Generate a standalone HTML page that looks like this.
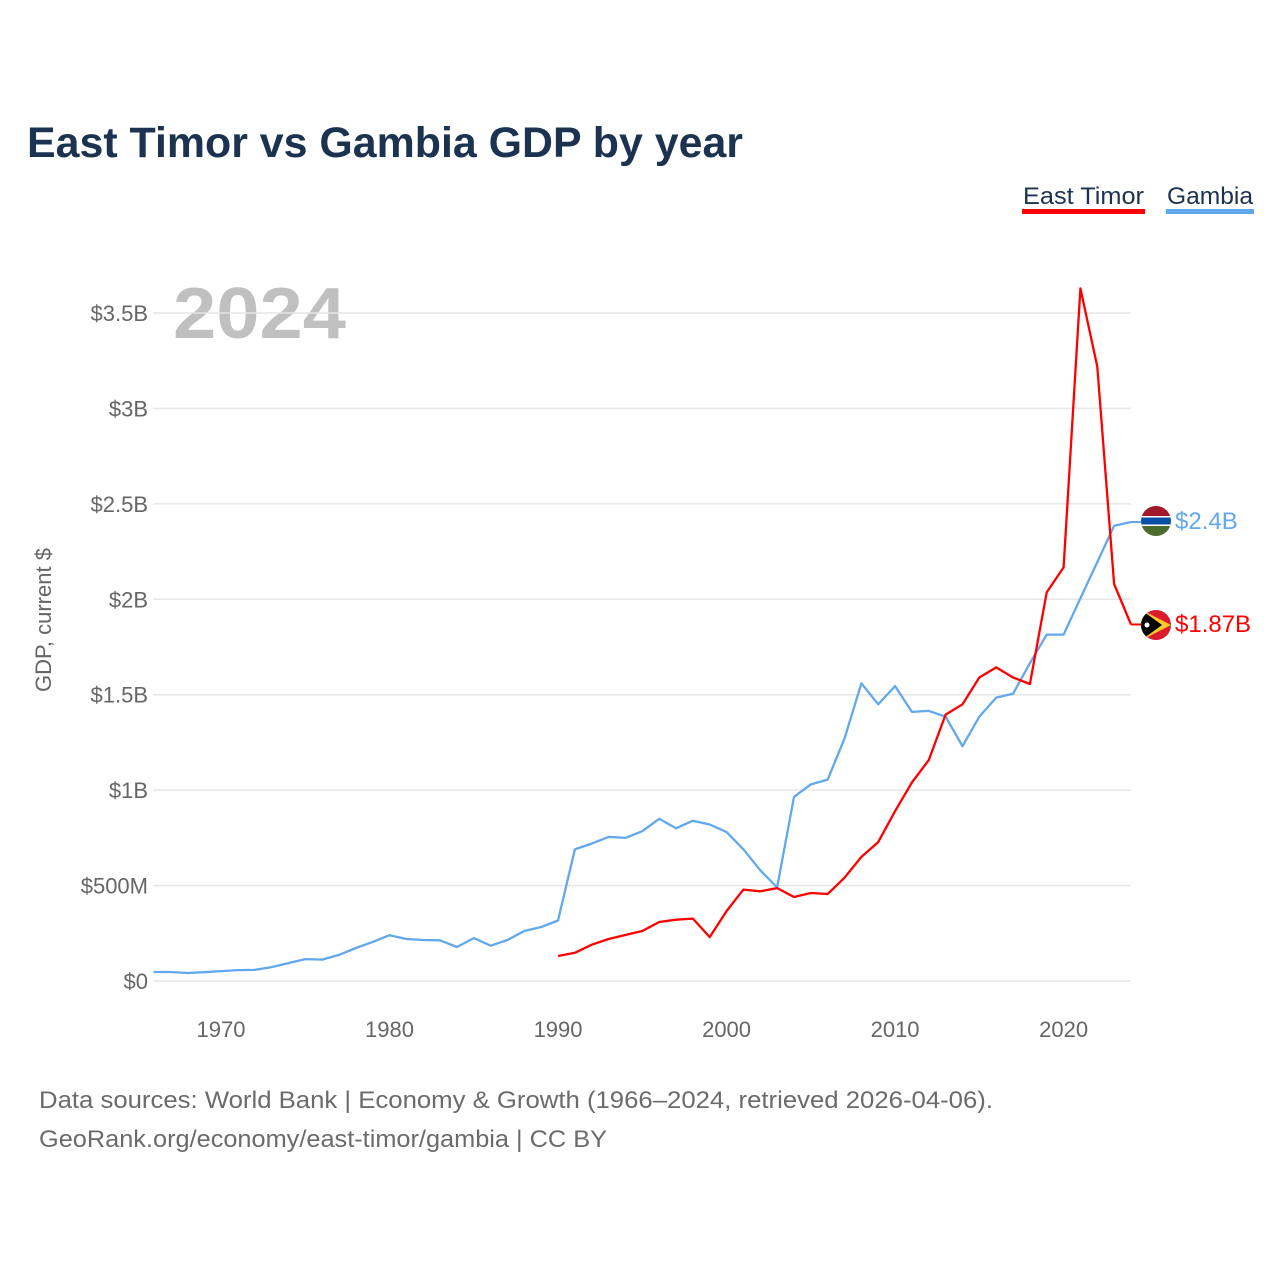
<!DOCTYPE html>
<html><head><meta charset="utf-8">
<style>
body{margin:0;background:#fff;width:1280px;height:1280px;overflow:hidden;font-family:"Liberation Sans",sans-serif}
</style></head>
<body>
<svg id="chart" width="1280" height="1280" xmlns="http://www.w3.org/2000/svg">
<text x="27" y="157" font-size="43" font-weight="bold" fill="#1b3350" textLength="716" lengthAdjust="spacingAndGlyphs">East Timor vs Gambia GDP by year</text>
<g>
<text x="1023" y="204" font-size="24" fill="#1b3350" textLength="121" lengthAdjust="spacingAndGlyphs">East Timor</text>
<rect x="1022" y="209" width="123" height="5" fill="#ff0000"/>
<text x="1167" y="204" font-size="24" fill="#1b3350" textLength="86" lengthAdjust="spacingAndGlyphs">Gambia</text>
<rect x="1166" y="209" width="88" height="5" fill="#62a8ec"/>
</g>
<text x="173" y="338" font-size="72" font-weight="bold" fill="#c0c0c0" textLength="173" lengthAdjust="spacingAndGlyphs">2024</text>
<text transform="translate(51,620) rotate(-90)" text-anchor="middle" font-size="22" fill="#666">GDP, current $</text>
<g id="grid"></g>
<g id="xaxis"></g>
<g id="series"></g>
<g>
<clipPath id="cg"><circle cx="1156" cy="521" r="15"/></clipPath>
<g clip-path="url(#cg)">
<rect x="1140" y="505" width="32" height="11" fill="#a0182a"/>
<rect x="1140" y="516" width="32" height="10" fill="#fff"/>
<rect x="1140" y="517.5" width="32" height="7" fill="#0c4ea6"/>
<rect x="1140" y="526" width="32" height="11" fill="#4a6b2e"/>
</g>
<text x="1175" y="529" font-size="24" fill="#62a8ec">$2.4B</text>
</g>
<g>
<clipPath id="ct"><circle cx="1156" cy="625" r="15"/></clipPath>
<g clip-path="url(#ct)">
<rect x="1140" y="609" width="32" height="32" fill="#dc1a2e"/>
<polygon points="1140,609 1171,625 1140,641" fill="#ffc726"/>
<polygon points="1140,609 1162,625 1140,641" fill="#000"/>
<circle cx="1147" cy="625" r="2.5" fill="#fff"/>
</g>
<text x="1175" y="632" font-size="24" fill="#ff0000">$1.87B</text>
</g>
<text x="39" y="1108" font-size="24" fill="#6b6b6b" textLength="954" lengthAdjust="spacingAndGlyphs">Data sources: World Bank | Economy &amp; Growth (1966–2024, retrieved 2026-04-06).</text>
<text x="39" y="1147" font-size="24" fill="#6b6b6b" textLength="568" lengthAdjust="spacingAndGlyphs">GeoRank.org/economy/east-timor/gambia | CC BY</text>
</svg>
<script>
const gambiaYears=[1966,1967,1968,1969,1970,1971,1972,1973,1974,1975,1976,1977,1978,1979,1980,1981,1982,1983,1984,1985,1986,1987,1988,1989,1990,1991,1992,1993,1994,1995,1996,1997,1998,1999,2000,2001,2002,2003,2004,2005,2006,2007,2008,2009,2010,2011,2012,2013,2014,2015,2016,2017,2018,2019,2020,2021,2022,2023,2024];
const gambiaGdpB=[0.047,0.047,0.042,0.046,0.052,0.057,0.058,0.073,0.094,0.115,0.112,0.137,0.173,0.205,0.24,0.22,0.215,0.213,0.178,0.225,0.185,0.215,0.262,0.283,0.317,0.69,0.72,0.755,0.75,0.785,0.85,0.80,0.84,0.82,0.78,0.69,0.58,0.49,0.965,1.03,1.055,1.27,1.56,1.45,1.545,1.41,1.415,1.385,1.23,1.385,1.485,1.505,1.665,1.815,1.815,2.005,2.195,2.385,2.405];
const timorYears=[1990,1991,1992,1993,1994,1995,1996,1997,1998,1999,2000,2001,2002,2003,2004,2005,2006,2007,2008,2009,2010,2011,2012,2013,2014,2015,2016,2017,2018,2019,2020,2021,2022,2023,2024];
const timorGdpB=[0.131,0.148,0.19,0.22,0.241,0.262,0.309,0.321,0.327,0.23,0.367,0.479,0.47,0.487,0.44,0.461,0.456,0.541,0.65,0.728,0.89,1.04,1.158,1.396,1.45,1.59,1.643,1.59,1.556,2.036,2.167,3.629,3.218,2.08,1.868];
const yTicks=[0,0.5,1,1.5,2,2.5,3,3.5];
const yTickLabels=["$0","$500M","$1B","$1.5B","$2B","$2.5B","$3B","$3.5B"];
const xTicks=[1970,1980,1990,2000,2010,2020];

const NS="http://www.w3.org/2000/svg";
const X0=153.6,X1=1131,Y0=981,Y1=313;
function xs(yr){return X0+(yr-1966)/(2024-1966)*(X1-X0);}
function ys(v){return Y0-v/3.5*(Y0-Y1);}
function mk(tag,attrs,parent){const e=document.createElementNS(NS,tag);for(const k in attrs)e.setAttribute(k,attrs[k]);parent.appendChild(e);return e;}

const grid=document.getElementById('grid');
yTicks.forEach((t,i)=>{
  const l=mk('line',{x1:153,x2:1131,y1:ys(t),y2:ys(t),stroke:'#e6e6e6','stroke-width':1.5},grid);
  
  
  const tx=mk('text',{x:148,y:ys(t)+8,'text-anchor':'end','font-size':22,fill:'#666'},grid);
  tx.textContent=yTickLabels[i];
  
  
});
const xa=document.getElementById('xaxis');
xTicks.forEach(t=>{
  const tx=mk('text',{x:xs(t),y:1037,'text-anchor':'middle','font-size':22,fill:'#666'},xa);
  tx.textContent=t;
  
  
});
const s=document.getElementById('series');
function line(years,vals,color,name){
  const d=years.map((y,i)=>(i?'L':'M')+xs(y).toFixed(1)+','+ys(vals[i]).toFixed(1)).join(' ');
  const p=mk('path',{d:d,fill:'none',stroke:color,'stroke-width':2.3,'stroke-linejoin':'round'},s);
  
  
  const n=years.length-1;
  const c=mk('line',{x1:xs(years[n]),y1:ys(vals[n]),x2:1141,y2:ys(vals[n]),stroke:color,'stroke-width':2},s);
  
  
}
line(gambiaYears,gambiaGdpB,'#62a8ec','gambia-line');
line(timorYears,timorGdpB,'#ff0000','east-timor-line');
</script>
</body></html>
